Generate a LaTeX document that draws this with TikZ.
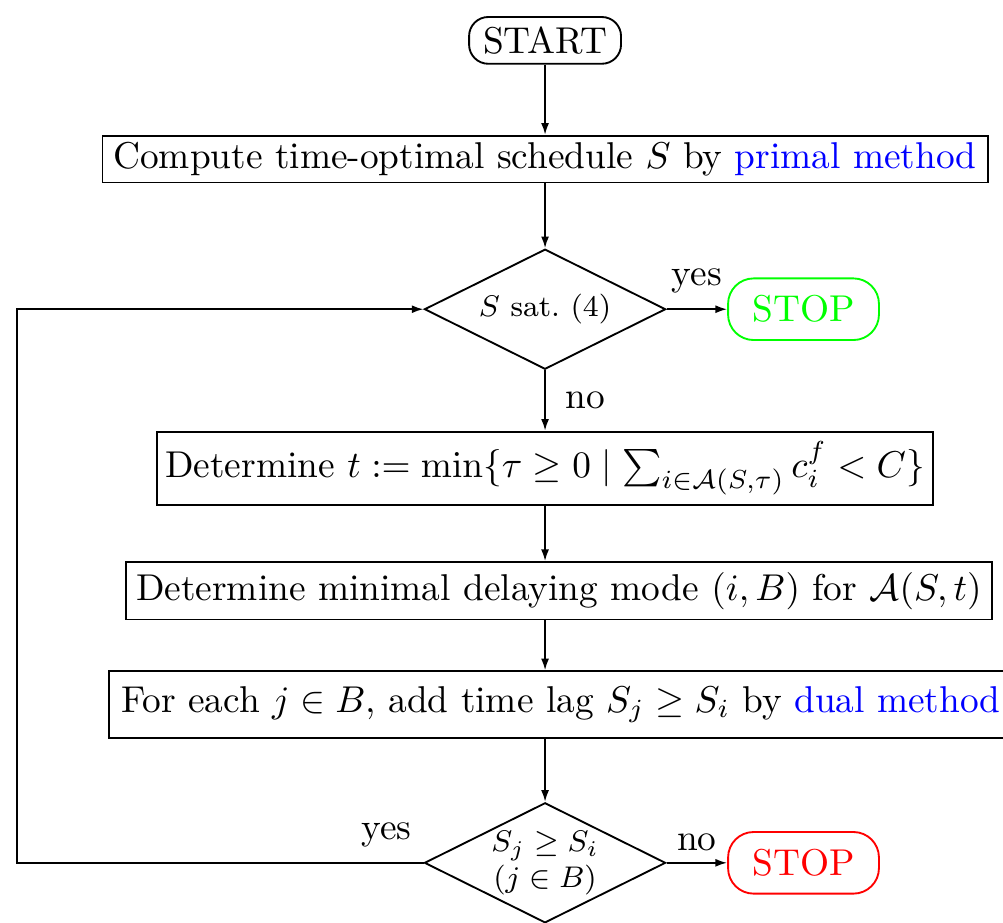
\documentclass[tikz,border=0pt]{standalone}
\usepackage{amsmath}
\usepackage{amssymb}
\usepackage{xcolor}
\usetikzlibrary{arrows.meta,positioning,shapes.geometric,calc}
\tikzset{
  fcbox/.style={
    draw, line width=0.5pt, align=center,
    inner xsep=0.8mm, inner ysep=0.5mm
  },
  term/.style={fcbox, rounded corners=1.8mm, minimum height=4.4mm},
  proc/.style={fcbox},
  dec/.style={
    draw, line width=0.5pt, diamond, aspect=2, inner sep=0pt,
    minimum width=22.7mm, minimum height=11.3mm,
    font=\footnotesize, align=center
  },
  arr/.style={-{Latex[length=1.1mm,width=0.75mm]}, line width=0.5pt},
  lbl/.style={inner sep=1pt}
}

\begin{document}
\begin{tikzpicture}[node distance=6mm]
  \useasboundingbox (-51.3mm,3.8mm) rectangle (43.1mm,-83mm);
  \node[term, minimum width=14.3mm] (start) at (0,0) {START};
  \node[proc, minimum width=83.3mm, minimum height=4.4mm, below=6.6mm of start] (prim)
    {Compute time-optimal schedule $S$ by \textcolor{blue}{primal method}};
  \node[dec, below=6.1mm of prim] (sat) {$S$ sat.\ (4)};
  \node[term, draw=green, text=green, rounded corners=2.4mm, minimum width=14.2mm,
    minimum height=5.8mm, right=5.7mm of sat] (stopok) {STOP};
  \node[proc, minimum width=72.3mm, minimum height=6.9mm, below=5.7mm of sat] (tmin)
    {Determine $t:=\min\{\tau\geq 0\mid \sum_{i\in\mathcal{A}(S,\tau)}c_i^f<C\}$};
  \node[proc, minimum width=81.5mm, minimum height=5.4mm, below=5.2mm of tmin, xshift=1.3mm] (mode)
    {Determine minimal delaying mode $(i,B)$ for $\mathcal{A}(S,t)$};
  \node[proc, minimum width=85mm, minimum height=6.3mm, below=4.7mm of mode, xshift=0.2mm] (lag)
    {For each $j\in B$, add time lag $S_j\geq S_i$ by \textcolor{blue}{dual method}};
  \node[dec, below=5.9mm of lag.south -| sat, anchor=north] (chk) {$S_j\geq S_i$\\$(j\in B)$};
  \node[term, draw=red, text=red, rounded corners=2.4mm, minimum width=14.2mm,
    minimum height=5.8mm, right=5.7mm of chk] (stopno) {STOP};

  % connectors
  \draw[arr] (start) -- (prim);
  \draw[arr] (prim) -- (sat);
  \draw[arr] (sat) -- (stopok);
  \draw[arr] (sat) -- (tmin);
  \draw[arr] (tmin.south) -- (tmin.south |- mode.north);
  \draw[arr] (tmin.south |- mode.south) -- (tmin.south |- lag.north);
  \draw[arr] (tmin.south |- lag.south) -- (chk);
  \draw[arr] (chk) -- (stopno);
  \draw[arr] (chk.west) -- ++(-38.3mm,0) |- (sat.west);

  % branch labels
  \node[lbl, above=3pt] (yes1) at ($(sat.east)!0.5!(stopok.west)$) {yes};
  \node[lbl, right=1.5mm] (no1) at ($(sat.south)!0.5!(tmin.north)$) {no};
  \node[lbl, anchor=south east] (yes2) at ([xshift=-0.7mm,yshift=3pt]chk.west) {yes};
  \node[lbl, above=2pt] (no2) at ($(chk.east)!0.5!(stopno.west)$) {no};
\end{tikzpicture}
\end{document}
